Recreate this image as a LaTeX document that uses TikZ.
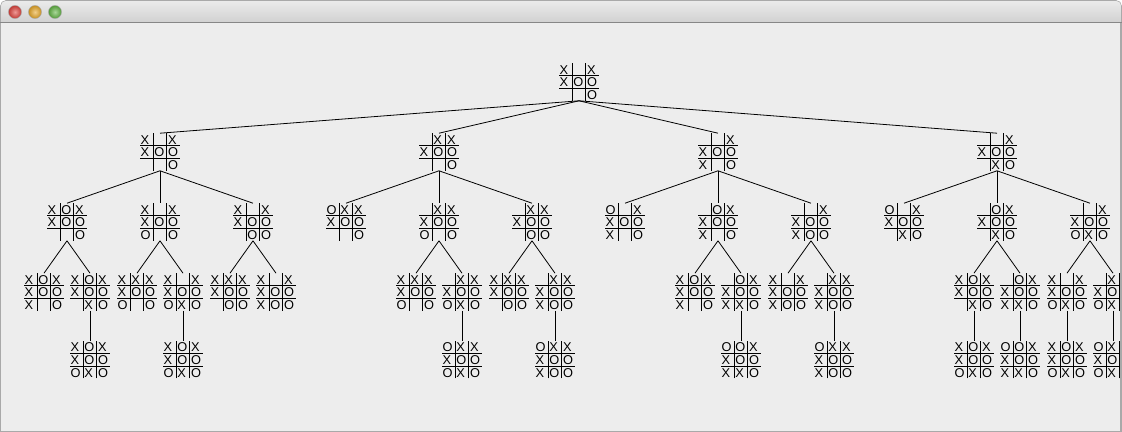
\documentclass[tikz,border=0pt]{standalone}
\usepackage{fontspec}
\setmainfont{Liberation Sans}
\usepackage{array}
\usepackage{xcolor}
\usetikzlibrary{positioning}

\definecolor{winbg}{HTML}{EDEDED}
\definecolor{wingray}{HTML}{A9A9A9}
\definecolor{bartop}{HTML}{EBEBEB}
\definecolor{barbot}{HTML}{D1D1D1}
\definecolor{btnred}{HTML}{E0443E}
\definecolor{btnyel}{HTML}{E8A828}
\definecolor{btngrn}{HTML}{62B544}

% one cell and one 3x3 board
\newcommand{\cel}[1]{\makebox[9.5pt][l]{\hspace{0.5pt}\rule[-0.8pt]{0pt}{8.9pt}#1}}
\newcommand{\ttt}[9]{{\renewcommand\arraystretch{0}\setlength\tabcolsep{0pt}\setlength\arrayrulewidth{0.75pt}%
  \begin{tabular}{c|c|c}\cel{#1}&\cel{#2}&\cel{#3}\\\hline
  \cel{#4}&\cel{#5}&\cel{#6}\\\hline
  \cel{#7}&\cel{#8}&\cel{#9}\end{tabular}}}

\begin{document}
\begin{tikzpicture}[
  x=0.75pt, y=-0.75pt,
  board/.style={inner sep=0pt, outer sep=0pt, font=\fontsize{9.6}{10}\selectfont},
  link/.style={line width=0.6pt},
  lower/.style={board, below=22.5pt of #1},
]
\useasboundingbox (0,0) rectangle (1122,432);

% Window frame
\fill[white] (0,0) rectangle (1122,432);
\path[fill=winbg, draw=wingray] (0.5,22) rectangle (1121.5,431.5);
\shade[top color=bartop, bottom color=barbot, draw=wingray]
  (0.5,22.5) [rounded corners=4pt] -- (0.5,0.5) -- (1121.5,0.5) [sharp corners] -- (1121.5,22.5) -- cycle;
\draw[wingray!80!black] (0.5,22.5) -- (1121.5,22.5);
\foreach \cx/\col in {15/btnred, 35/btnyel, 55/btngrn}
  \shade[inner color=\col!55!white, outer color=\col!85!black, draw=black!35, line width=0.3pt]
    (\cx,12) circle[radius=4.9pt];

\begin{scope}
\clip (1,23) rectangle (1120.5,431);

% Root
\node[board] (r) at (579,82) {\ttt{X}{}{X}{X}{O}{O}{}{}{O}};

% Level 1
\node[board] (a) at (160,152) {\ttt{X}{}{X}{X}{O}{O}{}{}{O}};
\node[board] (b) at (439,152) {\ttt{}{X}{X}{X}{O}{O}{}{}{O}};
\node[board] (c) at (718,152) {\ttt{}{}{X}{X}{O}{O}{X}{}{O}};
\node[board] (d) at (997,152) {\ttt{}{}{X}{X}{O}{O}{}{X}{O}};

% Level 2
\node[board] (a1) at (67,222)   {\ttt{X}{O}{X}{X}{O}{O}{}{}{O}};
\node[board] (a2) at (160,222)  {\ttt{X}{}{X}{X}{O}{O}{O}{}{O}};
\node[board] (a3) at (253,222)  {\ttt{X}{}{X}{X}{O}{O}{}{O}{O}};
\node[board] (b1) at (346,222)  {\ttt{O}{X}{X}{X}{O}{O}{}{}{O}};
\node[board] (b2) at (439,222)  {\ttt{}{X}{X}{X}{O}{O}{O}{}{O}};
\node[board] (b3) at (532,222)  {\ttt{}{X}{X}{X}{O}{O}{}{O}{O}};
\node[board] (c1) at (625,222)  {\ttt{O}{}{X}{X}{O}{O}{X}{}{O}};
\node[board] (c2) at (718,222)  {\ttt{}{O}{X}{X}{O}{O}{X}{}{O}};
\node[board] (c3) at (811,222)  {\ttt{}{}{X}{X}{O}{O}{X}{O}{O}};
\node[board] (d1) at (904,222)  {\ttt{O}{}{X}{X}{O}{O}{}{X}{O}};
\node[board] (d2) at (997,222)  {\ttt{}{O}{X}{X}{O}{O}{}{X}{O}};
\node[board] (d3) at (1090,222) {\ttt{}{}{X}{X}{O}{O}{O}{X}{O}};

% Level 3
\node[board] (a1-1) at (44,292)   {\ttt{X}{O}{X}{X}{O}{O}{X}{}{O}};
\node[board] (a1-2) at (90,292)   {\ttt{X}{O}{X}{X}{O}{O}{}{X}{O}};
\node[board] (a2-1) at (137,292)  {\ttt{X}{X}{X}{X}{O}{O}{O}{}{O}};
\node[board] (a2-2) at (183,292)  {\ttt{X}{}{X}{X}{O}{O}{O}{X}{O}};
\node[board] (a3-1) at (230,292)  {\ttt{X}{X}{X}{X}{O}{O}{}{O}{O}};
\node[board] (a3-2) at (276,292)  {\ttt{X}{}{X}{X}{O}{O}{X}{O}{O}};
\node[board] (b2-1) at (416,292)  {\ttt{X}{X}{X}{X}{O}{O}{O}{}{O}};
\node[board] (b2-2) at (462,292)  {\ttt{}{X}{X}{X}{O}{O}{O}{X}{O}};
\node[board] (b3-1) at (509,292)  {\ttt{X}{X}{X}{X}{O}{O}{}{O}{O}};
\node[board] (b3-2) at (555,292)  {\ttt{}{X}{X}{X}{O}{O}{X}{O}{O}};
\node[board] (c2-1) at (695,292)  {\ttt{X}{O}{X}{X}{O}{O}{X}{}{O}};
\node[board] (c2-2) at (741,292)  {\ttt{}{O}{X}{X}{O}{O}{X}{X}{O}};
\node[board] (c3-1) at (788,292)  {\ttt{X}{}{X}{X}{O}{O}{X}{O}{O}};
\node[board] (c3-2) at (834,292)  {\ttt{}{X}{X}{X}{O}{O}{X}{O}{O}};
\node[board] (d2-1) at (974,292)  {\ttt{X}{O}{X}{X}{O}{O}{}{X}{O}};
\node[board] (d2-2) at (1020,292) {\ttt{}{O}{X}{X}{O}{O}{X}{X}{O}};
\node[board] (d3-1) at (1067,292) {\ttt{X}{}{X}{X}{O}{O}{O}{X}{O}};
\node[board] (d3-2) at (1113,292) {\ttt{}{X}{X}{X}{O}{O}{O}{X}{O}};

% Level 4
\node[lower=a1-2] (a1-2-1) {\ttt{X}{O}{X}{X}{O}{O}{O}{X}{O}};
\node[lower=a2-2] (a2-2-1) {\ttt{X}{O}{X}{X}{O}{O}{O}{X}{O}};
\node[lower=b2-2] (b2-2-1) {\ttt{O}{X}{X}{X}{O}{O}{O}{X}{O}};
\node[lower=b3-2] (b3-2-1) {\ttt{O}{X}{X}{X}{O}{O}{X}{O}{O}};
\node[lower=c2-2] (c2-2-1) {\ttt{O}{O}{X}{X}{O}{O}{X}{X}{O}};
\node[lower=c3-2] (c3-2-1) {\ttt{O}{X}{X}{X}{O}{O}{X}{O}{O}};
\node[lower=d2-1] (d2-1-1) {\ttt{X}{O}{X}{X}{O}{O}{O}{X}{O}};
\node[lower=d2-2] (d2-2-1) {\ttt{O}{O}{X}{X}{O}{O}{X}{X}{O}};
\node[lower=d3-1] (d3-1-1) {\ttt{X}{O}{X}{X}{O}{O}{O}{X}{O}};
\node[lower=d3-2] (d3-2-1) {\ttt{O}{X}{X}{X}{O}{O}{O}{X}{O}};

% Links
\foreach \k in {a,b,c,d}
  \draw[link] (r.south) -- (\k.north);
\foreach \k in {a,b,c,d}
  \foreach \s in {1,2,3}
    \draw[link] (\k.south) -- (\k\s.north);
\foreach \n in {a1,a2,a3,b2,b3,c2,c3,d2,d3} {
  \draw[link] (\n.south) -- (\n-1.north);
  \draw[link] (\n.south) -- (\n-2.north);
}
\foreach \n in {a1-2,a2-2,b2-2,b3-2,c2-2,c3-2,d2-1,d2-2,d3-1,d3-2}
  \draw[link] (\n.south) -- (\n-1.north);
\end{scope}

\draw[wingray] (1120.5,23) -- (1120.5,431.5);
\end{tikzpicture}
\end{document}
